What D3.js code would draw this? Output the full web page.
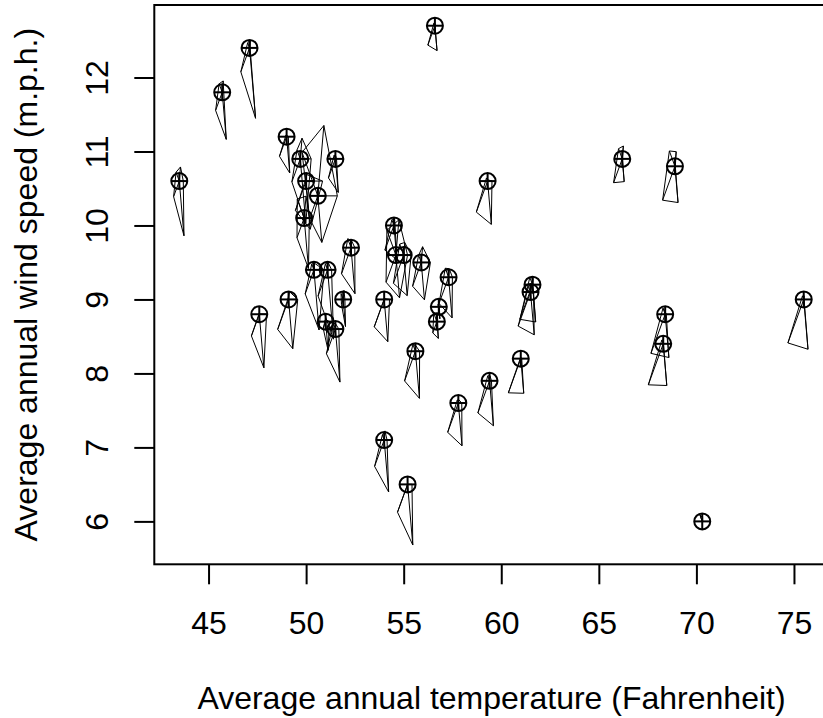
<!DOCTYPE html>
<html>
<head>
<meta charset="utf-8">
<script src="https://d3js.org/d3.v7.min.js"></script>
<style>
  body { margin: 0; background: #fff; }
  svg { display: block; }
  text { font-family: "Liberation Sans", Arial, Helvetica, sans-serif; fill: #000; }
  .axis text { font-size: 32px; }
  .axis line { stroke: #000; stroke-width: 2px; }
  .title { font-size: 32px; }
  .star { fill: none; stroke: #000; stroke-width: 1px; }
  .pch { fill: none; stroke: #000; stroke-width: 2px; }
</style>
</head>
<body>
<svg id="chart"></svg>
<script>
// US air pollution, 41 cities
var cities = ["Albany","Albuquerque","Atlanta","Baltimore","Buffalo","Charleston","Chicago","Cincinnati",
  "Cleveland","Columbus","Dallas","Denver","Des Moines","Detroit","Hartford","Houston","Indianapolis",
  "Jacksonville","Kansas City","Little Rock","Louisville","Memphis","Miami","Milwaukee","Minneapolis",
  "Nashville","New Orleans","Norfolk","Omaha","Philadelphia","Phoenix","Pittsburgh","Providence",
  "Richmond","Salt Lake City","San Francisco","Seattle","St. Louis","Washington","Wichita","Wilmington"];
var temp = [47.6,56.8,61.5,55.0,47.1,55.2,50.6,54.0,49.7,51.5,66.2,51.9,49.0,49.9,49.1,68.9,52.3,
  68.4,54.5,61.0,55.6,61.6,75.5,45.7,43.5,59.4,68.3,59.3,51.5,54.6,70.3,50.4,50.0,57.8,51.0,56.7,
  51.1,55.9,57.3,56.6,54.0];
var wind = [8.8,8.9,9.1,9.6,12.4,6.5,10.4,7.1,10.9,8.6,10.9,9.0,11.2,10.1,9.0,10.8,9.7,8.8,10.0,8.2,
  8.3,9.2,9.0,11.8,10.6,7.9,8.4,10.6,10.9,9.6,6.0,9.4,10.6,7.6,8.7,8.7,9.4,9.5,9.3,12.7,9.0];
// star variables
var so2 = [46,11,24,47,11,31,110,23,65,26,9,17,17,35,56,10,28,14,14,13,30,10,10,16,29,18,9,31,14,69,
  10,61,94,26,28,12,29,56,28,8,36];
var manu = [44,46,368,625,391,35,3344,462,1007,266,641,454,104,1064,412,721,361,136,381,91,291,337,
  207,569,699,275,204,96,181,1692,213,347,343,197,137,453,379,775,434,125,80];
var popul = [116,244,497,905,463,71,3369,453,751,540,844,515,201,1513,158,1233,746,529,507,132,593,
  624,335,717,744,448,361,308,347,1950,582,520,179,299,176,716,531,622,757,277,80];
var precip = [33.36,7.77,48.34,41.31,36.11,40.75,34.44,39.04,34.99,37.01,35.94,12.95,30.85,30.96,
  43.37,48.19,38.74,54.47,37.00,48.52,43.11,49.10,59.80,29.07,25.94,46.00,56.77,44.68,30.18,39.93,
  7.05,36.22,42.75,42.59,15.17,20.66,38.79,35.89,38.89,30.58,40.25];
var predays = [135,58,115,111,166,148,122,132,155,134,78,86,103,129,127,103,121,116,99,100,123,105,
  128,123,137,119,113,116,98,115,36,147,125,115,89,67,164,105,111,82,114];

var xTicks = [45,50,55,60,65,70,75];
var yTicks = [6,7,8,9,10,11,12];

var W = 823, H = 718;
var svg = d3.select('#chart').attr('width', W).attr('height', H);

var x = d3.scaleLinear().domain([42.22, 76.78]).range([154.3, 828.7]);
var y = d3.scaleLinear().domain([5.42, 12.98]).range([564.3, 5]);

// box
svg.append('rect')
  .attr('x', x.range()[0]).attr('y', y.range()[1])
  .attr('width', x.range()[1] - x.range()[0])
  .attr('height', y.range()[0] - y.range()[1])
  .attr('fill', 'none').attr('stroke', '#000').attr('stroke-width', 2);

var gx = svg.append('g').attr('class', 'axis')
  .attr('transform', 'translate(0,' + y.range()[0] + ')')
  .call(d3.axisBottom(x).tickValues(xTicks).tickSize(20).tickFormat(d3.format('d')));
gx.select('.domain').remove();
gx.selectAll('text').attr('y', 70).attr('dy', 0);

var gy = svg.append('g').attr('class', 'axis')
  .attr('transform', 'translate(' + x.range()[0] + ',0)')
  .call(d3.axisLeft(y).tickValues(yTicks).tickSize(20).tickFormat(d3.format('d')));
gy.select('.domain').remove();
gy.selectAll('text')
  .attr('transform', 'rotate(-90)')
  .attr('text-anchor', 'middle')
  .attr('x', 0).attr('y', -46.5).attr('dy', 0);

svg.append('text').attr('class', 'title')
  .attr('x', (x.range()[0] + x.range()[1]) / 2).attr('y', 709)
  .attr('text-anchor', 'middle')
  .text('Average annual temperature (Fahrenheit)');

var cy = (y.range()[0] + y.range()[1]) / 2;
svg.append('text').attr('class', 'title')
  .attr('transform', 'translate(37,' + cy + ') rotate(-90)')
  .attr('text-anchor', 'middle')
  .text('Average annual wind speed (m.p.h.)');

// pch = 10 symbols
var idx = d3.range(cities.length);
var pts = svg.append('g').selectAll('g').data(idx).join('g')
  .attr('transform', i => 'translate(' + x(temp[i]) + ',' + y(wind[i]) + ')');
pts.append('circle').attr('class', 'pch').attr('r', 8);
pts.append('line').attr('class', 'pch').attr('x1', -8).attr('x2', 8);
pts.append('line').attr('class', 'pch').attr('y1', -8).attr('y2', 8);

// stars: each variable rescaled to [0,1], radius in data units
var vars = [so2, manu, popul, precip, predays];
var scaled = vars.map(v => {
  var s = d3.scaleLinear().domain(d3.extent(v)).range([0, 1]);
  return v.map(s);
});
var angles = vars.map((v, k) => 2 * Math.PI * k / vars.length);

var stars = svg.append('g');
idx.forEach(i => {
  var verts = angles.map((a, k) => [
    x(temp[i] + scaled[k][i] * Math.cos(a)),
    y(wind[i] + scaled[k][i] * Math.sin(a))
  ]);
  stars.append('polygon').attr('class', 'star')
    .attr('points', verts.map(p => p.join(',')).join(' '));
  verts.forEach(p => {
    stars.append('line').attr('class', 'star')
      .attr('x1', x(temp[i])).attr('y1', y(wind[i]))
      .attr('x2', p[0]).attr('y2', p[1]);
  });
});
</script>
</body>
</html>
